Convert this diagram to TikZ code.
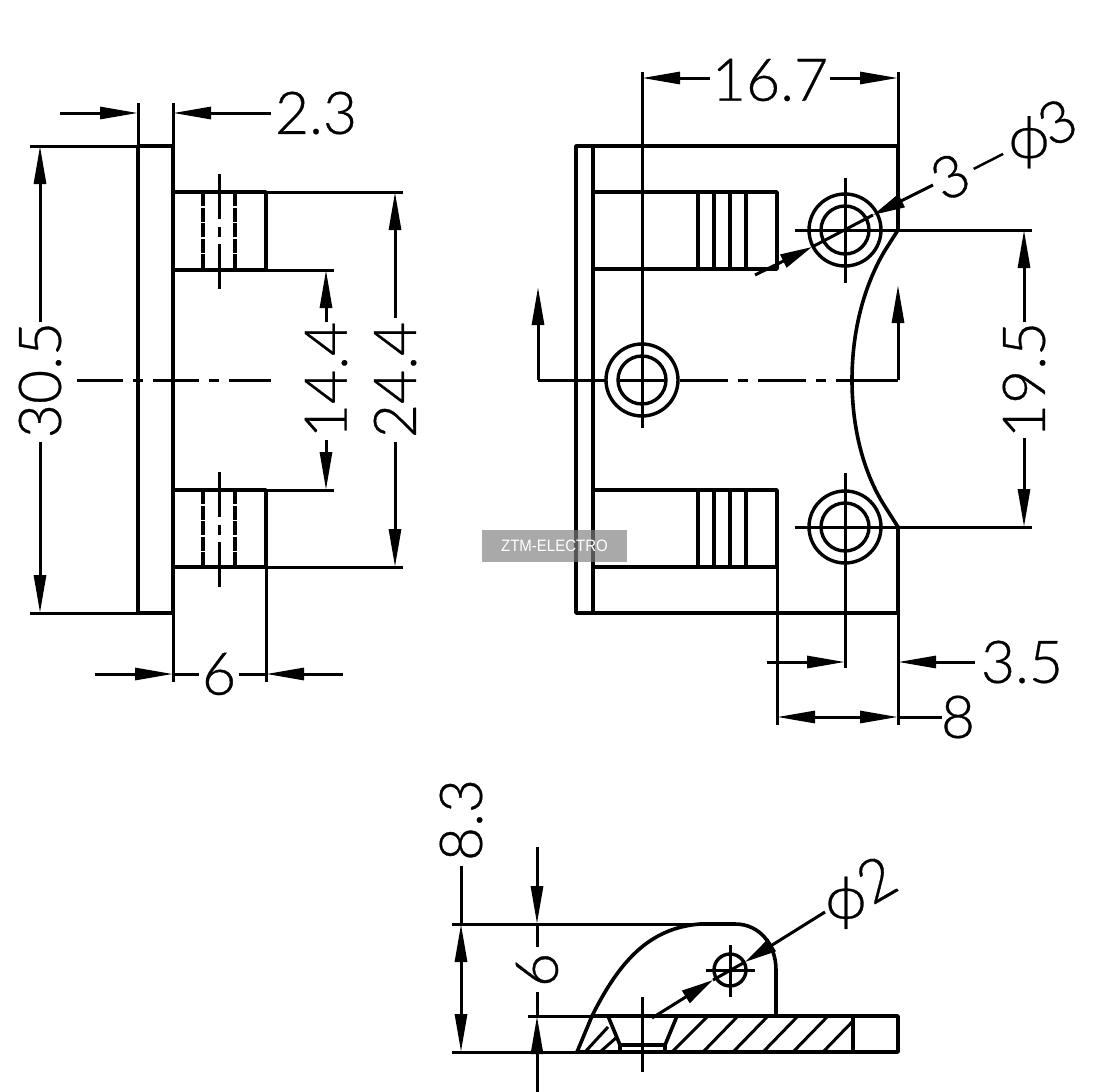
\documentclass[tikz,border=0pt]{standalone}
\usepackage{fontspec}
\setmainfont{Liberation Sans}
\newfontfamily\dimf{Lato Light}[FakeBold=0.5]
\usetikzlibrary{arrows.meta}
\newcommand{\slantphi}[1]{\makebox[32pt]{\rotatebox[origin=c]{#1}{ϕ}}}
\tikzset{
  thick line/.style={line width=3.6pt,line cap=round,line join=round},
  thin line/.style={line width=3pt},
  dimtip/.style={-{Triangle[length=38pt,width=12pt]}},
  dimtext/.style={inner sep=0pt,font=\dimf\fontsize{59}{59}\selectfont},
  leadertip/.style={-{Triangle[length=32pt,width=14pt]}},
}
\begin{document}
\begin{tikzpicture}[x=1pt,y=-1pt]
\useasboundingbox (0,0) rectangle (1109,1092);
\fill[white] (0,0) rectangle (1109,1092);
% ---------- LEFT VIEW ----------
\draw[thick line] (138,146) rectangle (173,613);
\draw[thick line] (173,192) -- (266,192) -- (266,270) -- (173,270);
\draw[thick line] (173,490) -- (266,490) -- (266,567) -- (173,567);
\draw[thin line] (138,103) -- (138,146) (173,103) -- (173,146);
\draw[thin line] (30,146) -- (138,146) (30,613) -- (138,613);
\draw[thin line] (266,192) -- (403,192) (266,567) -- (403,567);
\draw[thin line] (266,270) -- (334,270) (266,490) -- (334,490);
\draw[thin line] (173,613) -- (173,682) (266,567) -- (266,682);
\foreach \y in {192,490}{
  \draw[line width=3.2pt,dash pattern=on 14pt off 1.5pt] (203,\y) -- (203,\y+78);
  \draw[line width=3.2pt,dash pattern=on 14pt off 1.5pt] (235,\y) -- (235,\y+78);
  \draw[thin line] (219,\y-18) -- (219,\y+27) (219,\y+35) -- (219,\y+45) (219,\y+52) -- (219,\y+97);
}
\draw[thin line] (77,380) -- (123,380) (133,380) -- (143,380) (153,380) -- (199,380) (209,380) -- (219,380) (229,380) -- (271,380);
% 2.3
\node[dimtext] (t23) at (316,113) {2.3};
\coordinate (a23l) at (60,113); \coordinate (b23l) at (138,113);
\coordinate (b23r) at (173,113);
\draw[thin line,dimtip] (a23l) -- (b23l);
\draw[thin line,dimtip] (271,113) -- (b23r);
% 30.5
\node[dimtext,rotate=90] (t305) at (40,380) {30.5};
\coordinate (a305) at (40,146); \coordinate (b305) at (40,613);
\draw[thin line,dimtip] (40,322) -- (a305);
\draw[thin line,dimtip] (40,442) -- (b305);
% 14.4
\node[dimtext,rotate=90] (t144) at (326,380) {14.4};
\coordinate (a144) at (326,270); \coordinate (b144) at (326,490);
\draw[thin line,dimtip] (326,322) -- (a144);
\draw[thin line,dimtip] (326,440) -- (b144);
% 24.4
\node[dimtext,rotate=90] (t244) at (395,380) {24.4};
\coordinate (a244) at (395,192); \coordinate (b244) at (395,567);
\draw[thin line,dimtip] (395,318) -- (a244);
\draw[thin line,dimtip] (395,442) -- (b244);
% 6
\node[dimtext] (t6a) at (219,674) {6};
\coordinate (a6) at (173,674); \coordinate (b6) at (266,674);
\draw[thin line,dimtip] (95,674) -- (a6);
\draw[thin line,dimtip] (343,674) -- (b6);
\draw[thin line] (173,674) -- (199,674) (239,674) -- (266,674);
% ---------- RIGHT VIEW ----------
\draw[thick line] (898,230) -- (898,146) -- (576,146) -- (576,613) -- (898,613) -- (898,527);
\draw[thick line] (593,146) -- (593,613);
\draw[thick line] (898,230) -- (884,252) .. controls (862,290) and (852,335) .. (852,380)
   .. controls (852,425) and (862,470) .. (884,505) -- (898,527);
\foreach \y in {192,490}{
  \draw[thick line] (593,\y) -- (777,\y) -- (777,\y+77) -- (593,\y+77);
  \foreach \x in {698,714,730,746}{\draw[thick line] (\x,\y) -- (\x,\y+77);}
}
\draw[thin line] (777,567) -- (777,725);
\foreach \cx/\cy in {845/230,642/380,845/527}{
  \draw[line width=3.4pt] (\cx,\cy) circle[radius=36pt];
  \draw[line width=3.4pt] (\cx,\cy) circle[radius=24pt];
}
\draw[thin line] (795,230) -- (1032,230) (845,178) -- (845,283);
\draw[thin line] (795,527) -- (1032,527) (845,473) -- (845,668);
\draw[thin line] (642,72) -- (642,428);
\draw[thin line] (898,72) -- (898,146) (898,613) -- (898,725);
% section line
\coordinate (secl) at (538,287); \coordinate (secr) at (898,285);
\draw[thin line,dimtip] (538,380) -- (secl);
\draw[thin line,dimtip] (898,380) -- (secr);
\draw[thin line] (538,380) -- (606,380) (620,380) -- (664,380) (680,380) -- (728,380) (738,380) -- (748,380) (758,380) -- (806,380) (816,380) -- (826,380) (836,380) -- (898,380);
% 16.7
\node[dimtext] (t167) at (770,80) {16.7};
\coordinate (a167) at (642,78); \coordinate (b167) at (898,78);
\draw[thin line,dimtip] (710,78) -- (a167);
\draw[thin line,dimtip] (830,78) -- (b167);
% 19.5
\node[dimtext,rotate=90] (t195) at (1024,380) {19.5};
\coordinate (a195) at (1024,230); \coordinate (b195) at (1024,527);
\draw[thin line,dimtip] (1024,322) -- (a195);
\draw[thin line,dimtip] (1024,438) -- (b195);
% 3.5
\node[dimtext] (t35) at (1022,662) {3.5};
\coordinate (a35) at (845,662); \coordinate (b35) at (898,662);
\draw[thin line,dimtip] (767,662) -- (a35);
\draw[thin line,dimtip] (975,662) -- (b35);
% 8
\node[dimtext] (t8) at (958,717) {8};
\coordinate (a8) at (777,717); \coordinate (b8) at (898,717);
\draw[thin line,dimtip] (840,717) -- (a8);
\draw[thin line,dimtip] (836,717) -- (b8);
\draw[thin line] (898,717) -- (942,717);
% 3-phi3
\node[dimtext,rotate=27,anchor=center] (t3p) at (1006,154) {3\scalebox{1.4}[1]{–}\hspace{5pt}\slantphi{-27}\hspace{1pt}3};
\coordinate (l1) at (755,275); \coordinate (l1t) at (812,247);
\coordinate (l2) at (933,185); \coordinate (l2t) at (873,215);
\draw[thin line,leadertip] (l1) -- (l1t);
\draw[thin line,leadertip] (l2) -- (l2t);
\draw[thin line] (l1t) -- (l2t);
% ---------- BOTTOM VIEW ----------
\draw[thick line] (592,1016) -- (898,1016) -- (898,1052) -- (577,1052);
\draw[thick line] (853,1016) -- (853,1052);
\draw[thick line] (577,1052) -- (592,1016) .. controls (620,960) and (650,928) .. (700,924) -- (735,924)
   .. controls (760,924) and (776,945) .. (776,970) -- (776,1016);
\draw[thin line] (452,924) -- (700,924) (452,1052) -- (577,1052) (528,1016) -- (592,1016);
\draw[thick line] (608,1016) -- (620,1045) -- (665,1045) -- (677,1016);
\draw[thick line] (620,1045) -- (620,1052) (665,1045) -- (665,1052);
\draw[thin line] (642,997) -- (642,1072);
\draw[thin line] (585,1052) -- (608,1027) (600,1052) -- (617,1037)
  (672,1052) -- (708,1016) (703,1052) -- (738,1016) (733,1052) -- (768,1016)
  (763,1052) -- (798,1016) (793,1052) -- (828,1016) (823,1052) -- (853,1021);
\draw[line width=3.4pt] (730,970) circle[radius=16pt];
\draw[thin line] (706,970) -- (755,970) (730,945) -- (730,997);
% 8.3
\node[dimtext,rotate=90] (t83) at (461,820) {8.3};
\coordinate (a83) at (461,924); \coordinate (b83) at (461,1052);
\draw[thin line,dimtip] (461,990) -- (a83);
\draw[thin line,dimtip] (461,986) -- (b83);
\draw[thin line] (461,924) -- (461,866);
% 6 vertical
\node[dimtext,rotate=90] (t6b) at (537,970) {6};
\coordinate (a6b) at (537,924); \coordinate (b6b) at (537,1016);
\draw[thin line,dimtip] (537,847) -- (a6b);
\draw[thin line,dimtip] (537,1092) -- (b6b);
\draw[thin line] (537,924) -- (537,947) (537,992) -- (537,1016);
% phi2
\node[dimtext,rotate=30] (tp2) at (863,893) {\slantphi{-30}\hspace{5pt}2};
\coordinate (p1) at (652,1018); \coordinate (p1t) at (713,980);
\coordinate (p2) at (825,912); \coordinate (p2t) at (745,962);
\draw[thin line,leadertip] (p1) -- (p1t);
\draw[thin line,leadertip] (p2) -- (p2t);
\draw[thin line] (p1t) -- (p2t);
% ---------- WATERMARK ----------
\node[fill=gray,fill opacity=.67,minimum width=145pt,minimum height=32pt,inner sep=0pt] (wm) at (554.5,546) {};
\node[text=white,font=\fontsize{16.5}{16.5}\selectfont,inner sep=0pt] (wmt) at (554.5,546) {\scalebox{.91}[1]{ZTM-ELECTRO}};
\end{tikzpicture}
\end{document}
